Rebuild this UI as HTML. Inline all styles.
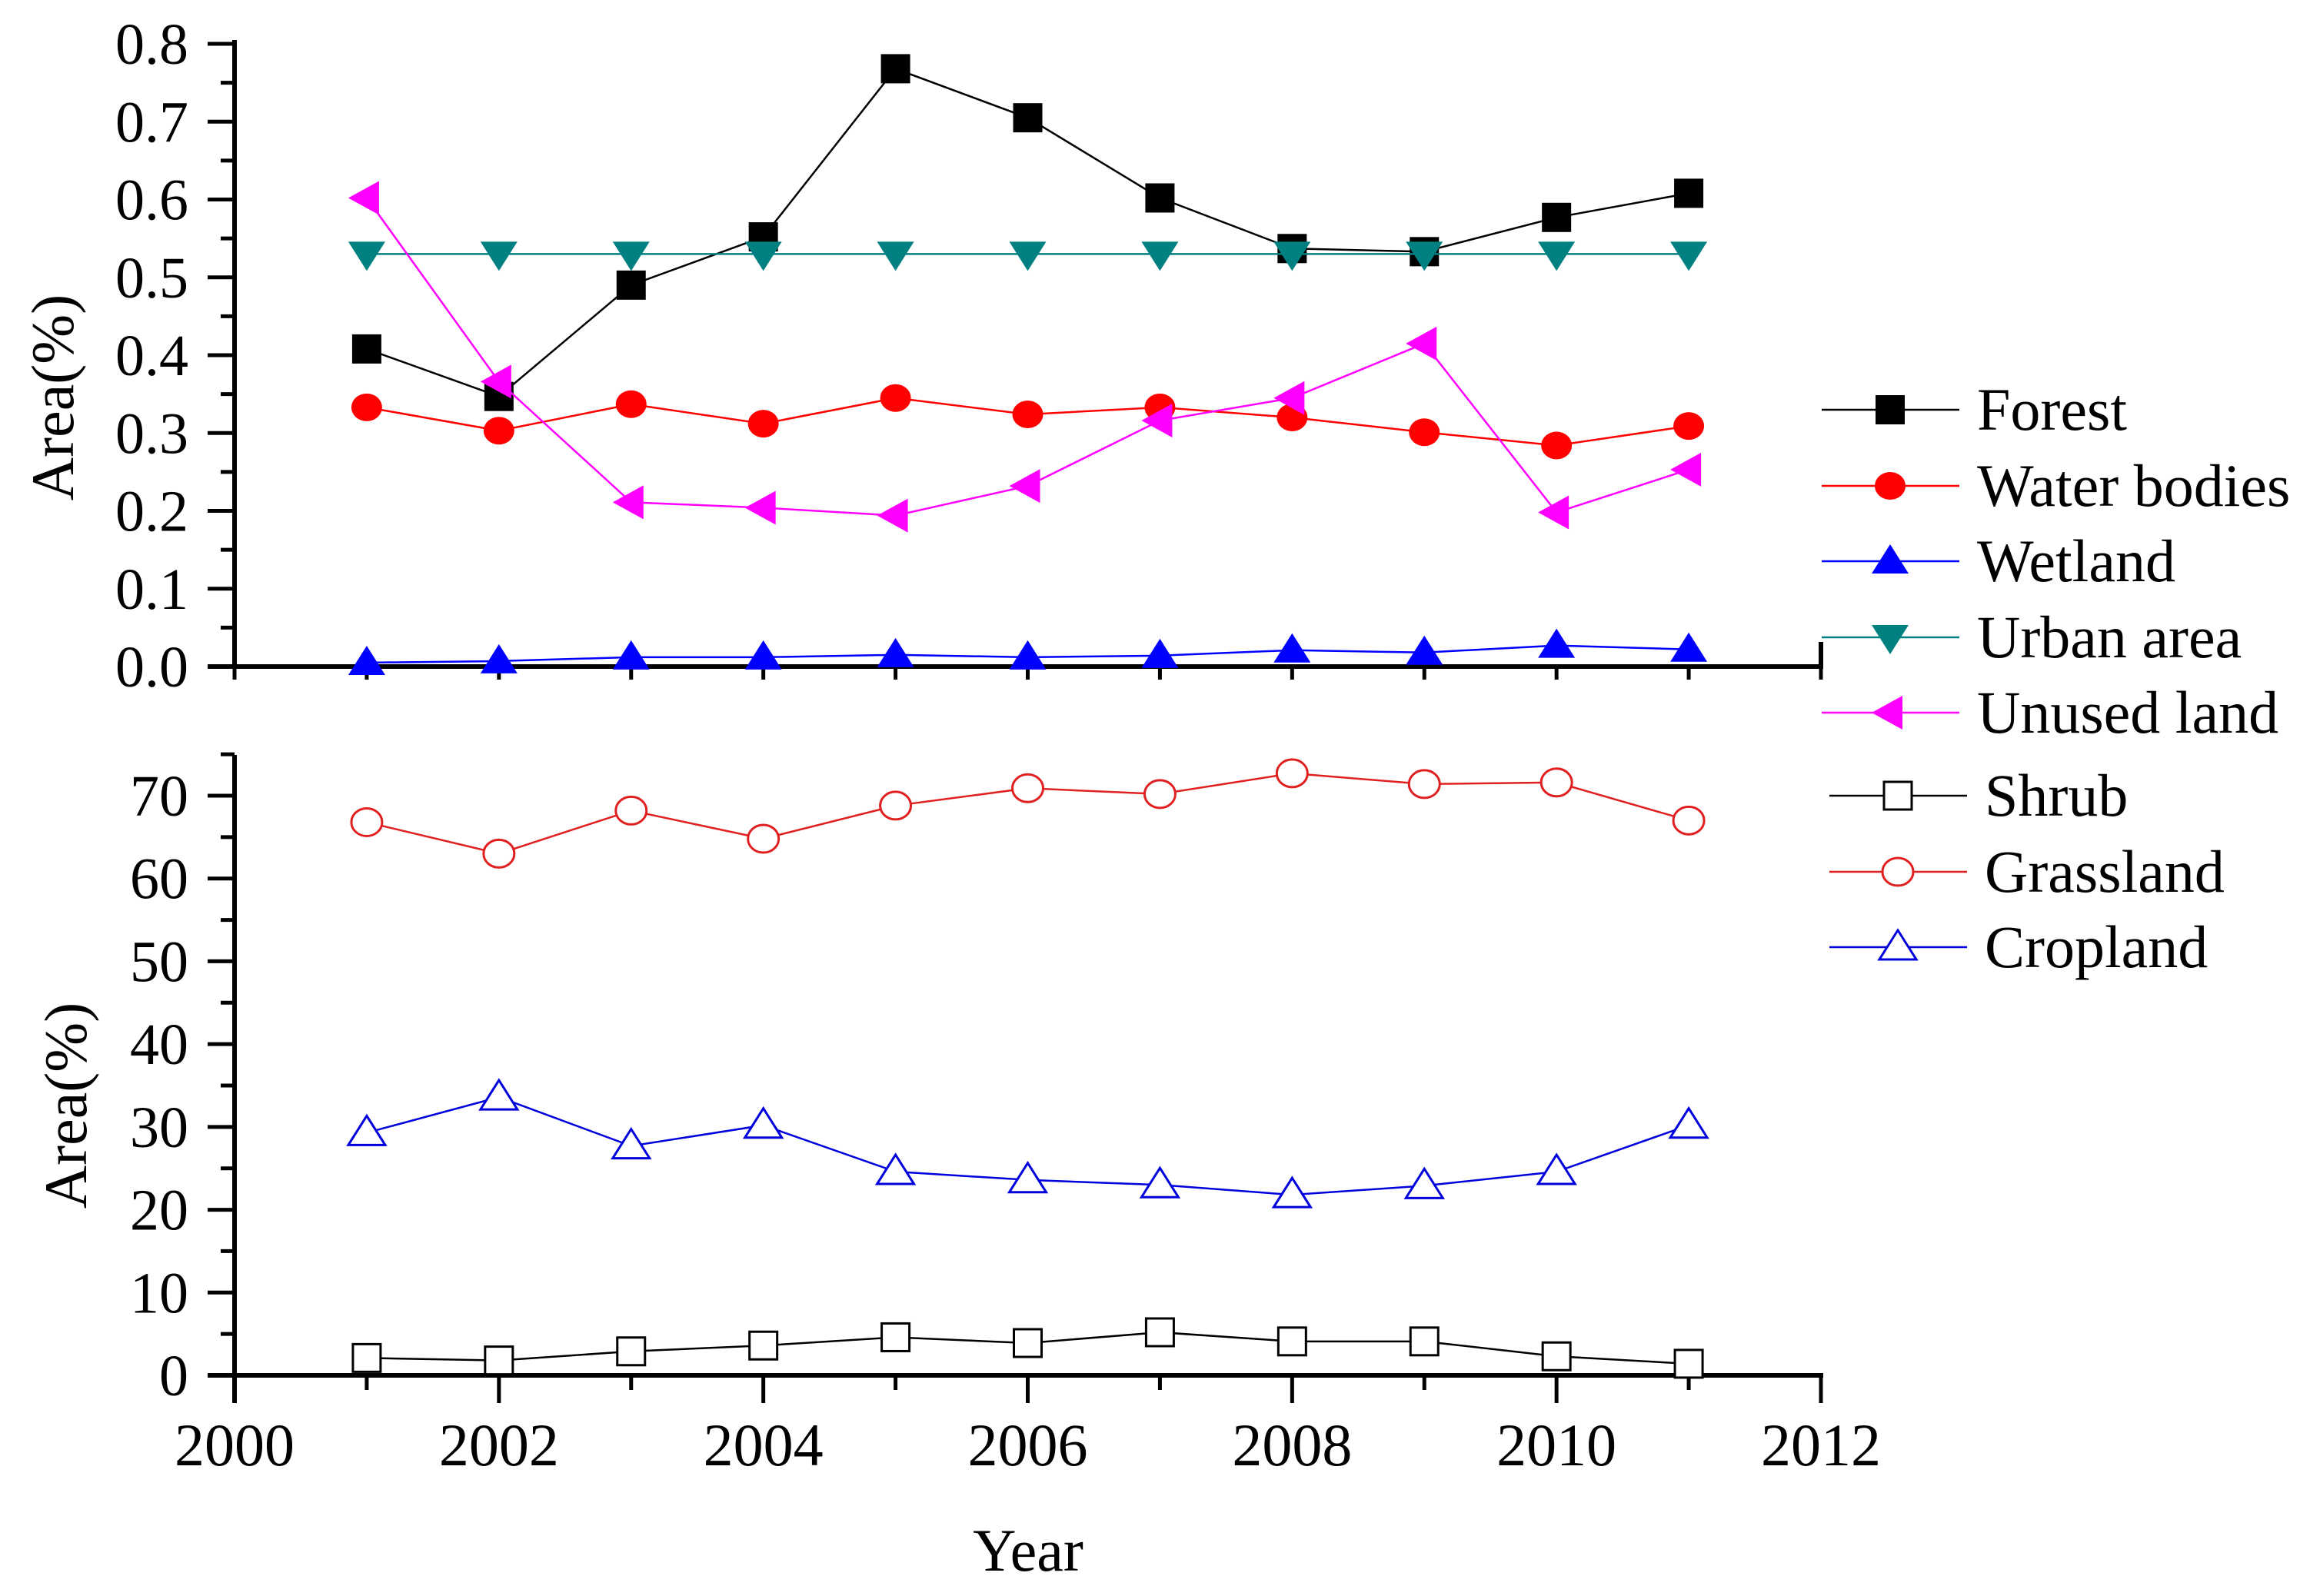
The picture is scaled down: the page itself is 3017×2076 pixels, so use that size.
<!DOCTYPE html>
<html><head><meta charset="utf-8"><style>
html,body{margin:0;padding:0;background:#fff;}
svg{display:block;font-family:"Liberation Serif",serif;}
</style></head><body>
<svg id="chart" width="3017" height="2076" viewBox="0 0 3017 2076"></svg>
<script>
const years=[2001,2002,2003,2004,2005,2006,2007,2008,2009,2010,2011];
const forest=[0.408,0.347,0.49,0.552,0.768,0.705,0.602,0.537,0.533,0.577,0.608];
const water=[0.333,0.303,0.337,0.312,0.345,0.324,0.333,0.32,0.301,0.284,0.309];
const wetland=[0.005,0.007,0.012,0.012,0.015,0.012,0.014,0.021,0.018,0.027,0.022];
const urban=[0.53,0.53,0.53,0.53,0.53,0.53,0.53,0.53,0.53,0.53,0.53];
const unused=[0.602,0.366,0.211,0.204,0.194,0.232,0.316,0.345,0.415,0.198,0.253];
const shrub=[2.1,1.8,2.9,3.6,4.6,3.9,5.2,4.1,4.1,2.3,1.4];
const grass=[66.8,63.0,68.2,64.8,68.8,70.9,70.2,72.7,71.4,71.6,67.0];
const crop=[29.3,33.6,27.7,30.2,24.6,23.6,23.0,21.8,22.9,24.6,30.2];
const xTicks=[2000,2002,2004,2006,2008,2010,2012];
const topTicks=["0.0","0.1","0.2","0.3","0.4","0.5","0.6","0.7","0.8"];
const botTicks=["0","10","20","30","40","50","60","70"];

const svg=document.getElementById('chart');
const NS='http://www.w3.org/2000/svg';
function mk(tag,at,parent){const e=document.createElementNS(NS,tag);for(const k in at)e.setAttribute(k,at[k]);(parent||svg).appendChild(e);return e;}
const X0=305,X1=2368;
const xs=v=>X0+(v-2000)*(X1-X0)/12;
const yTop=v=>867-v*(867-57)/0.8;
const yBot=v=>1789-v*(1789-1035)/70;

// axes top
let g=mk('g',{});


mk('line',{x1:X0,y1:52,x2:X0,y2:870,stroke:'#000','stroke-width':6},g);
for(let i=0;i<=16;i++){const v=i*0.05;const y=yTop(v);mk('line',{x1:i%2?287:270,y1:y,x2:X0,y2:y,stroke:'#000','stroke-width':5},g);}
topTicks.forEach(t=>{const e=mk('text',{x:245,y:yTop(parseFloat(t))+26,'text-anchor':'end','font-size':76},g);e.textContent=t;});
let ta=mk('text',{x:0,y:0,'font-size':78,'text-anchor':'middle',transform:'translate(95,517) rotate(-90)'});


ta.textContent='Area(%)';
g=mk('g',{});


mk('line',{x1:270,y1:867,x2:X1+3,y2:867,stroke:'#000','stroke-width':6},g);
mk('line',{x1:X1,y1:867,x2:X1,y2:835,stroke:'#000','stroke-width':6},g);
for(let y=2000;y<=2012;y++){mk('line',{x1:xs(y),y1:867,x2:xs(y),y2:884,stroke:'#000','stroke-width':5},g);}

// axes bottom
g=mk('g',{});


mk('line',{x1:X0,y1:982,x2:X0,y2:1825,stroke:'#000','stroke-width':6},g);
for(let i=0;i<=15;i++){const v=i*5;const y=yBot(v);mk('line',{x1:i%2?287:270,y1:y,x2:X0,y2:y,stroke:'#000','stroke-width':5},g);}
botTicks.forEach(t=>{const e=mk('text',{x:245,y:yBot(parseFloat(t))+26,'text-anchor':'end','font-size':76},g);e.textContent=t;});
ta=mk('text',{x:0,y:0,'font-size':78,'text-anchor':'middle',transform:'translate(112,1438) rotate(-90)'});


ta.textContent='Area(%)';
g=mk('g',{});


mk('line',{x1:270,y1:1789,x2:X1+3,y2:1789,stroke:'#000','stroke-width':6},g);
for(let y=2000;y<=2012;y++){mk('line',{x1:xs(y),y1:1789,x2:xs(y),y2:y%2?1808:1825,stroke:'#000','stroke-width':5},g);}
xTicks.forEach(t=>{const e=mk('text',{x:xs(t),y:1906,'text-anchor':'middle','font-size':78},g);e.textContent=t;});
ta=mk('text',{x:1337,y:2043,'text-anchor':'middle','font-size':78});


ta.textContent='Year';

function marker(type,cx,cy,color,parent){
  const s=18;
  if(type==='sq') return mk('rect',{x:cx-s,y:cy-s,width:2*s,height:2*s,fill:color,stroke:color,'stroke-width':2},parent);
  if(type==='osq') return mk('rect',{x:cx-s,y:cy-s,width:2*s,height:2*s,fill:'#fff',stroke:color,'stroke-width':3},parent);
  if(type==='ci') return mk('ellipse',{cx:cx,cy:cy,rx:20,ry:18,fill:color},parent);
  if(type==='oci') return mk('ellipse',{cx:cx,cy:cy,rx:20,ry:18,fill:'#fff',stroke:color,'stroke-width':3},parent);
  if(type==='up') return mk('polygon',{points:`${cx},${cy-22} ${cx+24},${cy+16} ${cx-24},${cy+16}`,fill:color},parent);
  if(type==='oup') return mk('polygon',{points:`${cx},${cy-22} ${cx+24},${cy+16} ${cx-24},${cy+16}`,fill:'#fff',stroke:color,'stroke-width':3},parent);
  if(type==='dn') return mk('polygon',{points:`${cx},${cy+22} ${cx+24},${cy-16} ${cx-24},${cy-16}`,fill:color},parent);
  if(type==='lt') return mk('polygon',{points:`${cx-24},${cy} ${cx+16},${cy-22} ${cx+16},${cy+22}`,fill:color},parent);
}
const series=[
 {name:'Forest',d:forest,c:'#000',m:'sq',ys:yTop,key:'forest'},
 {name:'Water bodies',d:water,c:'#ff0000',m:'ci',ys:yTop,key:'water-bodies'},
 {name:'Wetland',d:wetland,c:'#0000ff',m:'up',ys:yTop,key:'wetland'},
 {name:'Urban area',d:urban,c:'#008080',m:'dn',ys:yTop,key:'urban-area'},
 {name:'Unused land',d:unused,c:'#ff00ff',m:'lt',ys:yTop,key:'unused-land'},
 {name:'Shrub',d:shrub,c:'#000',m:'osq',ys:yBot,key:'shrub'},
 {name:'Grassland',d:grass,c:'#e02020',m:'oci',ys:yBot,key:'grassland'},
 {name:'Cropland',d:crop,c:'#0000dd',m:'oup',ys:yBot,key:'cropland'}
];
series.forEach(s=>{
  const sg=mk('g',{});
  
  
  const pts=s.d.map((v,i)=>xs(years[i])+','+s.ys(v)).join(' ');
  mk('polyline',{points:pts,fill:'none',stroke:s.c,'stroke-width':2.5},sg);
  s.d.forEach((v,i)=>{const m=marker(s.m,xs(years[i]),s.ys(v),s.c,sg);
    
    });
});
// legend
const legY=[533,632,730,829,927,1035,1134,1232];
const lg=mk('g',{});


series.forEach((s,i)=>{
  const e=mk('g',{},lg);
  
  
  const off=i>=5?10:0;
  const y=legY[i];
  mk('line',{x1:2369+off,y1:y,x2:2548+off,y2:y,stroke:s.c,'stroke-width':2.5},e);
  marker(s.m,2458+off,y,s.c,e);
  const t=mk('text',{x:2571+off,y:y+26,'font-size':78},e);
  t.textContent=s.name;
});
</script>
</body></html>
